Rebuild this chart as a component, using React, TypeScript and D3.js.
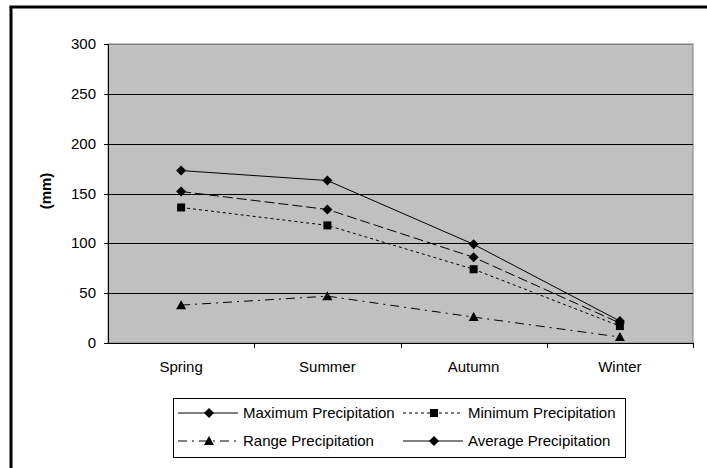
import React from "react";
import * as d3 from "d3";

const seasons = ["Spring", "Summer", "Autumn", "Winter"];
const maximumPrecip = [173, 163, 99, 22];
const averagePrecip = [152, 134, 86, 20];
const minimumPrecip = [136, 118, 74, 17];
const rangePrecip = [38, 47, 26, 6];
const yTicks = [0, 50, 100, 150, 200, 250, 300];

type Series = { name: string; values: number[]; dash: string; marker: string; legendDash: string };
const series: Series[] = [
  { name: "Maximum Precipitation", values: maximumPrecip, dash: "", marker: "diamond", legendDash: "" },
  { name: "Minimum Precipitation", values: minimumPrecip, dash: "3,3", marker: "square", legendDash: "3,3" },
  { name: "Range Precipitation", values: rangePrecip, dash: "9,5,2,5", marker: "triangle", legendDash: "9,5,2,5" },
  { name: "Average Precipitation", values: averagePrecip, dash: "10,4", marker: "diamond", legendDash: "" },
];

const FONT = "'Liberation Sans', Arial, sans-serif";
const FS = 15;

function Marker({ type, x, y }: { type: string; x: number; y: number }) {
  if (type === "diamond") {
    const s = 5;
    return <path d={`M${x},${y - s}L${x + s},${y}L${x},${y + s}L${x - s},${y}Z`} fill="#000" />;
  }
  if (type === "square") {
    const s = 4;
    return <rect x={x - s} y={y - s} width={2 * s} height={2 * s} fill="#000" />;
  }
  const s = 5;
  return <path d={`M${x},${y - s}L${x + s},${y + s - 1}L${x - s},${y + s - 1}Z`} fill="#000" />;
}

export default function App() {
  const left = 108, right = 693, top = 44, bottom = 343;
  const x = d3.scaleBand<string>().domain(seasons).range([left, right]);
  const y = d3.scaleLinear().domain([0, 300]).range([bottom, top]);
  const line = d3
    .line<number>()
    .x((_, i) => (x(seasons[i]) as number) + x.bandwidth() / 2)
    .y((d) => y(d));

  const legendItems = [
    { s: series[0], lx: 178, ly: 413 },
    { s: series[1], lx: 403, ly: 413 },
    { s: series[2], lx: 178, ly: 441 },
    { s: series[3], lx: 403, ly: 441 },
  ];

  const boundaries = seasons.map((s) => (x(s) as number) + x.bandwidth());

  return (
    <svg
      width={707}
      height={468}
      style={{ position: "absolute", left: 0, top: 0, background: "#fff" }}
      fontFamily={FONT}
    >
      <rect x={0} y={0} width={707} height={468} fill="#fff" />
      {/* outer frame */}
      <line x1={11} y1={7} x2={11} y2={468} stroke="#000" strokeWidth={3} />
      <line x1={9.5} y1={7} x2={707} y2={7} stroke="#000" strokeWidth={3} />

      {/* plot area */}
      <rect x={left} y={top} width={right - left} height={bottom - top} fill="#c0c0c0" stroke="#808080" strokeWidth={1} />
      {yTicks.slice(1).map((t) => (
        <line key={t} x1={left} x2={right} y1={Math.round(y(t)) + 0.5} y2={Math.round(y(t)) + 0.5} stroke={t === 300 ? "#808080" : "#000"} strokeWidth={1.2} />
      ))}
      {/* axes */}
      <line x1={left + 0.5} x2={left + 0.5} y1={top} y2={bottom} stroke="#000" />
      <line x1={left} x2={right} y1={bottom + 0.5} y2={bottom + 0.5} stroke="#000" />
      {yTicks.map((t) => (
        <g key={t}>
          <line x1={left - 4} x2={left} y1={Math.round(y(t)) + 0.5} y2={Math.round(y(t)) + 0.5} stroke="#000" />
          <text x={96} y={y(t) + 5} textAnchor="end" fontSize={FS} fill="#000">
            {t}
          </text>
        </g>
      ))}
      {boundaries.map((b, i) => (
        <line key={i} x1={Math.round(b) + 0.5} x2={Math.round(b) + 0.5} y1={bottom} y2={bottom + 5} stroke="#000" />
      ))}
      {seasons.map((s) => (
        <text key={s} x={(x(s) as number) + x.bandwidth() / 2} y={372} textAnchor="middle" fontSize={FS} fill="#000">
          {s}
        </text>
      ))}
      <text transform="translate(51,191) rotate(-90)" textAnchor="middle" fontSize={FS} fontWeight="bold" fill="#000">
        (mm)
      </text>

      {/* series */}
      {series.map((s) => (
        <g key={s.name}>
          <path d={line(s.values) || ""} fill="none" stroke="#000" strokeWidth={1} strokeDasharray={s.dash || undefined} />
          {s.values.map((v, i) => (
            <Marker key={i} type={s.marker} x={(x(seasons[i]) as number) + x.bandwidth() / 2} y={y(v)} />
          ))}
        </g>
      ))}

      {/* legend */}
      <rect x={173.5} y={398.5} width={452} height={59} fill="#fff" stroke="#000" strokeWidth={1} />
      {legendItems.map(({ s, lx, ly }) => (
        <g key={s.name}>
          <line x1={lx} x2={lx + 60} y1={ly} y2={ly} stroke="#000" strokeDasharray={s.legendDash || undefined} />
          <Marker type={s.marker} x={lx + 31} y={ly} />
          <text x={lx + 65} y={ly + 5} fontSize={FS} fill="#000">
            {s.name}
          </text>
        </g>
      ))}
    </svg>
  );
}
